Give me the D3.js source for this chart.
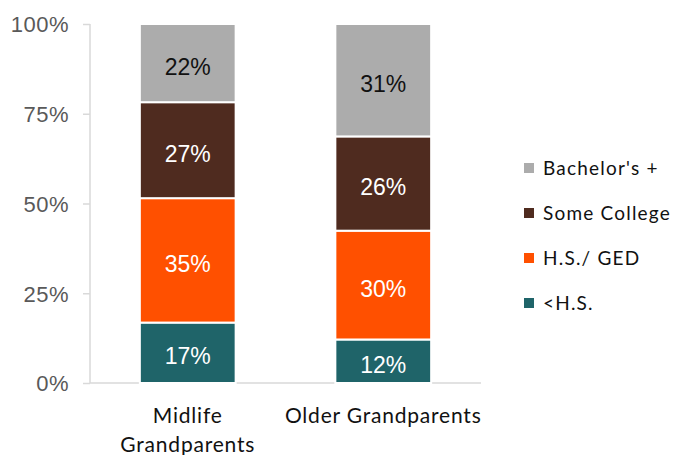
<html lang="en">
<head>
<meta charset="utf-8">
<title></title>
<style>
  body { margin: 0; background: #fff; }
  .tick-label { font-family: "Liberation Sans", Arial, sans-serif; font-size: 22px; fill: #595959; letter-spacing: 0.5px; }
  .cat-label { font-family: Lato, "Noto Sans", sans-serif; font-size: 21px; fill: #111; letter-spacing: 0.8px; }
  .seg-label { font-family: "Liberation Sans", Arial, sans-serif; font-size: 23px; }
  .legend-label { font-family: Lato, "Noto Sans", sans-serif; font-size: 19px; fill: #111; letter-spacing: 1.2px; }
</style>
<script src="https://d3js.org/d3.v7.min.js"></script>
</head>
<body>
<svg width="675" height="455" id="chart"></svg>
<script>
// data
var groups = ["Midlife Grandparents", "Older Grandparents"];
var groupLines = [["Midlife", "Grandparents"], ["Older Grandparents"]];
var levels = ["<H.S.", "H.S./ GED", "Some College", "Bachelor's +"];
var belowHS = [17, 12];
var highSchool = [35, 30];
var someCollege = [27, 26];
var bachelors = [22, 31];
var yTicks = [0, 0.25, 0.5, 0.75, 1];

var colors = ["#1f6469", "#ff5000", "#4f2b1f", "#acacac"];
var labelColors = ["#fff", "#fff", "#fff", "#111"];

var series = [belowHS, highSchool, someCollege, bachelors];
var rows = groups.map(function(g, i) {
  var r = { group: g };
  levels.forEach(function(l, j) { r[l] = series[j][i]; });
  return r;
});

var svg = d3.select("#chart");

var x = d3.scaleBand().domain(groups).range([90, 481]).paddingInner(0.51).paddingOuter(0.255);
var y = d3.scaleLinear().domain([0, 1]).range([383, 24]);

var stacked = d3.stack().keys(levels).offset(d3.stackOffsetExpand)(rows);

// y axis
var yAxis = svg.append("g")
  .attr("transform", "translate(90,0)")
  .call(d3.axisLeft(y).tickValues(yTicks).tickFormat(d3.format(".0%")).tickSize(7).tickPadding(14));
yAxis.select(".domain").attr("stroke", "#d9d9d9").attr("stroke-width", 1.5).attr("d", "M0,24V383");
yAxis.selectAll(".tick line").attr("stroke", "#d9d9d9").attr("stroke-width", 1.5);
yAxis.selectAll(".tick text").attr("class", "tick-label").attr("dy", "0.36em");

// x baseline
svg.append("line")
  .attr("x1", 90).attr("x2", 481)
  .attr("y1", y(0)).attr("y2", y(0))
  .attr("stroke", "#d9d9d9").attr("stroke-width", 1.5);

// bars
var layer = svg.selectAll(".layer")
  .data(stacked)
  .enter().append("g")
  .attr("class", "layer");

layer.selectAll("rect")
  .data(function(d) { return d.map(function(p) { return { p: p, key: d.key, idx: d.index }; }); })
  .enter().append("rect")
  .attr("x", function(d) { return x(d.p.data.group); })
  .attr("y", function(d) { return y(d.p[1]); })
  .attr("width", x.bandwidth())
  .attr("height", function(d) { return y(d.p[0]) - y(d.p[1]); })
  .attr("fill", function(d) { return colors[d.idx]; })
  .attr("stroke", "#fff")
  .attr("stroke-width", 2);

layer.selectAll("text")
  .data(function(d) { return d.map(function(p) { return { p: p, key: d.key, idx: d.index }; }); })
  .enter().append("text")
  .attr("class", "seg-label")
  .attr("x", function(d) { return x(d.p.data.group) + x.bandwidth() / 2; })
  .attr("y", function(d) { return (y(d.p[0]) + y(d.p[1])) / 2; })
  .attr("dy", "0.5em")
  .attr("text-anchor", "middle")
  .attr("fill", function(d) { return labelColors[d.idx]; })
  .text(function(d) { return d.p.data[d.key] + "%"; });

// category labels
groups.forEach(function(g, i) {
  var t = svg.append("text")
    .attr("class", "cat-label")
    .attr("text-anchor", "middle")
    .attr("x", x(g) + x.bandwidth() / 2)
    .attr("y", 423);
  groupLines[i].forEach(function(line, k) {
    t.append("tspan")
      .attr("x", x(g) + x.bandwidth() / 2)
      .attr("dy", k === 0 ? 0 : 29)
      .text(line);
  });
});

// legend (top to bottom: Bachelor's + first)
var legendOrder = levels.slice().reverse();
var legend = svg.selectAll(".legend")
  .data(legendOrder)
  .enter().append("g")
  .attr("class", "legend")
  .attr("transform", function(d, i) { return "translate(524," + (168 + i * 45) + ")"; });

legend.append("rect")
  .attr("x", 0).attr("y", -5)
  .attr("width", 10).attr("height", 10)
  .attr("fill", function(d) { return colors[levels.indexOf(d)]; });

legend.append("text")
  .attr("class", "legend-label")
  .attr("x", 19)
  .attr("dy", "0.36em")
  .text(function(d) { return d; });
</script>
</body>
</html>
